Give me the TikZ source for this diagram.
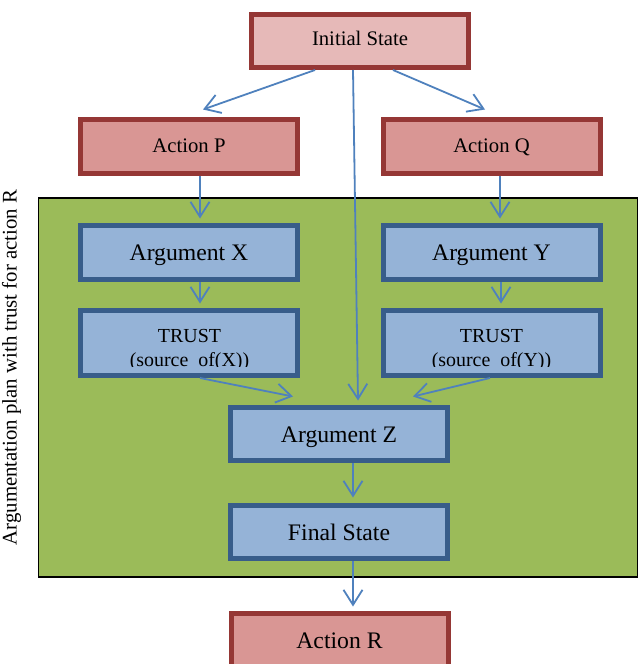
\documentclass[tikz,border=0pt]{standalone}
\usepackage{fontspec}
\setmainfont{Liberation Serif}
\usetikzlibrary{arrows.meta}
\definecolor{redline}{HTML}{953735}
\definecolor{initfill}{HTML}{E6B9B8}
\definecolor{actfill}{HTML}{D99694}
\definecolor{blueline}{HTML}{385D8A}
\definecolor{bluefill}{HTML}{95B3D7}
\definecolor{planfill}{HTML}{9BBB59}
\definecolor{arrowblue}{HTML}{4F81BD}
\begin{document}
\begin{tikzpicture}[x=1pt,y=-1pt,
    box/.style={draw, line width=5pt, minimum width=217pt, minimum height=54pt, inner sep=0pt},
    redbox/.style={box, draw=redline, fill=actfill, font=\fontsize{20.7}{25}\selectfont, text height=13.7pt, text depth=2.7pt},
    bluebox/.style={box, draw=blueline, fill=bluefill, font=\fontsize{23.7}{28}\selectfont, text height=16pt, text depth=1pt},
    trusttext/.style={anchor=base, inner sep=0pt, font=\fontsize{19.9}{23}\selectfont},
    conn/.style={draw=arrowblue, line width=1.8pt, -{Straight Barb[length=15pt,width=19pt]}}]
    \useasboundingbox (0,0) rectangle (638,664);
    % plan frame
    \draw[fill=planfill, line width=1.2pt] (38.5,198) rectangle (637.5,577);
    \node[rotate=90, font=\fontsize{20.8}{25}\selectfont] (plan) at (11.5,367.5) {Argumentation plan with trust for action R};
    % boxes
    \node[redbox, fill=initfill, minimum height=53pt, text depth=5.7pt] (init) at (360,41) {Initial State};
    \node[redbox] (actP) at (189,146.5) {Action P};
    \node[redbox] (actQ) at (491.5,146.5) {Action Q};
    \node[bluebox] (argX) at (189,252.5) {Argument X};
    \node[bluebox] (argY) at (491.5,252.5) {Argument Y};
    \node[bluebox, minimum height=65pt] (trX) at (189,343) {};
    \node[bluebox, minimum height=65pt] (trY) at (491.5,343) {};
    \node[bluebox, minimum height=53pt, text height=17pt] (argZ) at (339,434) {Argument Z};
    \node[bluebox, minimum height=53pt, text height=17pt] (final) at (339,532) {Final State};
    \node[redbox, font=\fontsize{23.7}{28}\selectfont, text height=16pt, text depth=0pt] (actR) at (339.5,640) {Action R};
    % trust texts, cut at the bottom
    \begin{scope}
      \clip (trX.north west) rectangle ([yshift=11.5pt]trX.south east);
      \node[trusttext] (trXa) at (189.5,342.3) {TRUST};
      \node[trusttext] (trXb) at (189.5,366.8) {(source\_of(X))};
    \end{scope}
    \begin{scope}
      \clip (trY.north west) rectangle ([yshift=11.5pt]trY.south east);
      \node[trusttext] (trYa) at (491.5,342.3) {TRUST};
      \node[trusttext] (trYb) at (491.5,366.8) {(source\_of(Y))};
    \end{scope}
    % connectors
    \draw[conn] ([xshift=-45pt]init.south) -- ([xshift=14pt,yshift=7.5pt]actP.north);
    \draw[conn] ([xshift=-7pt]init.south) -- ([xshift=19pt,yshift=4.5pt]argZ.north);
    \draw[conn] ([xshift=33pt]init.south) -- ([xshift=-6.5pt,yshift=7.5pt]actQ.north);
    \draw[conn] ([xshift=11pt]actP.south) -- ([xshift=11pt,yshift=4.5pt]argX.north);
    \draw[conn] ([xshift=8.5pt]actQ.south) -- ([xshift=8.5pt,yshift=4.5pt]argY.north);
    \draw[conn] ([xshift=11pt]argX.south) -- ([xshift=11pt,yshift=4.5pt]trX.north);
    \draw[conn] ([xshift=9.5pt]argY.south) -- ([xshift=9.5pt,yshift=4.5pt]trY.north);
    \draw[conn] ([xshift=11pt]trX.south) -- ([xshift=-46pt,yshift=8.5pt]argZ.north);
    \draw[conn] ([xshift=-1.5pt]trY.south) -- ([xshift=74pt,yshift=8.5pt]argZ.north);
    \draw[conn] ([xshift=14pt]argZ.south) -- ([xshift=14pt,yshift=5.5pt]final.north);
    \draw[conn] ([xshift=14pt]final.south) -- ([xshift=13.5pt,yshift=4pt]actR.north);
\end{tikzpicture}
\end{document}
